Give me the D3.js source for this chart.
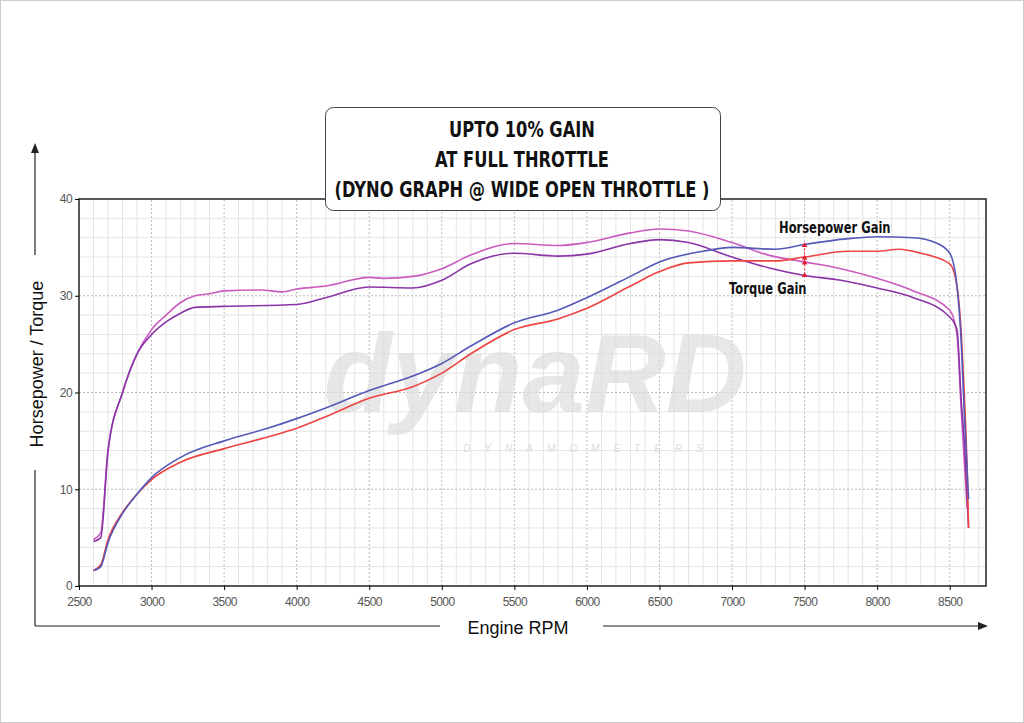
<!DOCTYPE html>
<html><head><meta charset="utf-8">
<script src="https://cdn.jsdelivr.net/npm/d3@7"></script>
<style>body{margin:0;background:#fff}</style>
</head><body>
<div id="chart"></div>
<script>
const rpmTicks = [2500,3000,3500,4000,4500,5000,5500,6000,6500,7000,7500,8000,8500]
const yTicks = [0,10,20,30,40]
const titleLines = ["UPTO 10% GAIN","AT FULL THROTTLE","(DYNO GRAPH @ WIDE OPEN THROTTLE )"]

const torqueGainRpm = [2600,2650,2700,2800,2900,3000,3100,3200,3300,3400,3500,3750,3900,4000,4200,4500,4600,4800,5000,5200,5500,5800,6000,6300,6500,6700,7000,7250,7500,7750,8000,8250,8500,8550,8580,8600,8620]
const torqueGain = [4.8,5.5,14,20,24,26.5,28,29.3,30,30.2,30.5,30.6,30.4,30.7,31,31.9,31.8,32,32.8,34.2,35.4,35.2,35.5,36.5,36.9,36.7,35.5,34.2,33.5,32.8,31.8,30.5,28.5,26,18,13,8]
const torqueStockRpm = [2600,2650,2700,2800,2900,3000,3100,3200,3300,3500,4000,4200,4500,4800,5000,5200,5500,5800,6000,6300,6500,6700,7000,7250,7500,7750,8000,8250,8500,8550,8580,8600,8630]
const torqueStock = [4.6,5,14,20,24,26,27.3,28.2,28.8,28.9,29.1,29.8,30.9,30.8,31.6,33.3,34.4,34.1,34.3,35.4,35.8,35.5,34,32.9,32.1,31.6,30.8,29.8,27.8,26.5,19,15,6]
const hpGainRpm = [2600,2650,2700,2800,2900,3000,3200,3500,3800,4000,4200,4500,4800,5000,5200,5500,5800,6000,6300,6500,6800,7000,7300,7500,7800,8000,8250,8400,8500,8550,8580,8600,8630]
const hpGain = [1.6,2,4.5,7.5,9.5,11.2,13.3,15,16.3,17.3,18.4,20.2,21.7,23,24.8,27.2,28.5,29.8,32,33.5,34.6,35,34.8,35.3,35.9,36.1,36,35.5,34.4,31,25,18,9]
const hpStockRpm = [2600,2650,2700,2800,2900,3000,3200,3500,3800,4000,4200,4500,4800,5000,5200,5500,5800,6000,6300,6500,6700,7000,7300,7500,7800,8000,8150,8300,8500,8550,8580,8600,8620,8630]
const hpStock = [1.6,2.2,4.8,7.6,9.5,11,12.8,14.2,15.4,16.3,17.5,19.4,20.6,22,24,26.5,27.6,28.7,31,32.5,33.4,33.6,33.6,34,34.6,34.6,34.8,34.4,33.3,31,26,20,12,6]

const width = 1024, height = 723
const svg = d3.select("#chart").append("svg").attr("width", width).attr("height", height)
  .style("font-family", "Liberation Sans, Arial, sans-serif")

const x = d3.scaleLinear().domain([2500, 8750]).range([79, 986])
const y = d3.scaleLinear().domain([0, 40]).range([586, 199])
const cond = "DejaVu Sans, sans-serif"

// page border
svg.append("rect").attr("x", 0.5).attr("y", 0.5).attr("width", width - 1).attr("height", height - 1)
  .attr("fill", "none").attr("stroke", "#ccc")

// grid
const grid = svg.append("g")
grid.selectAll("line.vm").data(d3.range(2600, 8750, 100)).join("line")
  .attr("x1", d => x(d)).attr("x2", d => x(d)).attr("y1", y(0)).attr("y2", y(40))
  .attr("stroke", d => d % 500 === 0 ? "#bbb" : "#e4e4e4").attr("stroke-width", 1)
  .attr("stroke-dasharray", d => d % 500 === 0 ? "2,2" : null)
grid.selectAll("line.hm").data(d3.range(2, 40, 2)).join("line")
  .attr("y1", d => y(d)).attr("y2", d => y(d)).attr("x1", x(2500)).attr("x2", x(8750))
  .attr("stroke", d => d % 10 === 0 ? "#bbb" : "#e4e4e4")
  .attr("stroke-dasharray", d => d % 10 === 0 ? "2,2" : null)
svg.append("rect").attr("x", x(2500)).attr("y", y(40)).attr("width", x(8750) - x(2500)).attr("height", y(0) - y(40))
  .attr("fill", "none").attr("stroke", "#222").attr("stroke-width", 1.5)

// watermark
svg.append("text").attr("x", 535).attr("y", 412).attr("text-anchor", "middle")
  .attr("font-size", 112).attr("font-style", "italic").attr("font-weight", "bold")
  .attr("fill", "#ddd").attr("opacity", 0.7).text("dynaRD")
svg.append("text").attr("x", 590).attr("y", 452).attr("text-anchor", "middle")
  .attr("font-size", 10).attr("letter-spacing", 14).attr("font-style", "italic")
  .attr("fill", "#ddd").text("DYNAMOMETERS")

// axes
const xAxis = svg.append("g").attr("transform", `translate(0,${y(0)})`)
  .call(d3.axisBottom(x).tickValues(rpmTicks).tickFormat(d3.format("d")).tickSize(4))
const yAxis = svg.append("g").attr("transform", `translate(${x(2500)},0)`)
  .call(d3.axisLeft(y).tickValues(yTicks).tickSize(4))
for (const a of [xAxis, yAxis]) {
  a.select(".domain").remove()
  a.selectAll("text").attr("fill", "#555").attr("font-size", 12).attr("letter-spacing", -0.6)
}
xAxis.selectAll("text").attr("dy", "1.1em")

// series
const line = d3.line().x(d => x(d[0])).y(d => y(d[1])).curve(d3.curveMonotoneX)
const series = [
  [torqueGainRpm, torqueGain, "#cc5bbf"],
  [torqueStockRpm, torqueStock, "#8a35a8"],
  [hpStockRpm, hpStock, "#ee4444"],
  [hpGainRpm, hpGain, "#5558b8"]
]
svg.selectAll("path.s").data(series).join("path")
  .attr("fill", "none").attr("stroke", d => d[2]).attr("stroke-width", 1.6)
  .attr("d", d => line(d[0].map((r, i) => [r, d[1][i]])))

// gain markers
const mk = svg.append("g").attr("stroke", "#e02030").attr("stroke-dasharray", "2,2")
mk.append("line").attr("x1", x(7500)).attr("x2", x(7500)).attr("y1", y(35.3)).attr("y2", y(32.1))
svg.selectAll("path.tri").data([35.2, 33.9, 33.4, 32.1]).join("path")
  .attr("transform", d => `translate(${x(7500)},${y(d)})`)
  .attr("d", d3.symbol(d3.symbolTriangle, 14)).attr("fill", "#e02030")
const ann = svg.append("g").attr("font-weight", "bold").attr("font-size", 16)
  .style("font-family", cond).attr("fill", "#111")
ann.append("text").attr("transform", "translate(779,233) scale(0.72,1)").text("Horsepower Gain")
ann.append("text").attr("transform", "translate(729,294) scale(0.72,1)").text("Torque Gain")

// axis arrows and labels
const ag = svg.append("g").attr("stroke", "#222").attr("stroke-width", 1.2)
ag.append("line").attr("x1", 35).attr("x2", 35).attr("y1", 150).attr("y2", 255)
ag.append("line").attr("x1", 35).attr("x2", 35).attr("y1", 470).attr("y2", 626)
ag.append("line").attr("x1", 35).attr("x2", 440).attr("y1", 626).attr("y2", 626)
ag.append("line").attr("x1", 603).attr("x2", 980).attr("y1", 626).attr("y2", 626)
svg.append("path").attr("d", "M35,143 L31,153 L39,153 Z").attr("fill", "#222")
svg.append("path").attr("d", "M988,626 L978,622 L978,630 Z").attr("fill", "#222")
svg.append("text").attr("transform", "translate(43,364) rotate(-90)").attr("text-anchor", "middle")
  .attr("font-size", 18).attr("fill", "#111").text("Horsepower / Torque")
svg.append("text").attr("x", 518).attr("y", 634).attr("text-anchor", "middle")
  .attr("font-size", 18).attr("fill", "#111").text("Engine RPM")

// title box
svg.append("rect").attr("x", 325.5).attr("y", 107.5).attr("width", 395).attr("height", 103).attr("rx", 8)
  .attr("fill", "#fff").attr("stroke", "#444")
svg.append("g").selectAll("text").data(titleLines).join("text")
  .attr("transform", (d, i) => `translate(522,${137 + i * 30}) scale(0.74,1)`).attr("text-anchor", "middle")
  .attr("font-size", 22).attr("font-weight", "bold").attr("fill", "#111")
  .style("font-family", cond).text(d => d)
</script>
</body></html>
